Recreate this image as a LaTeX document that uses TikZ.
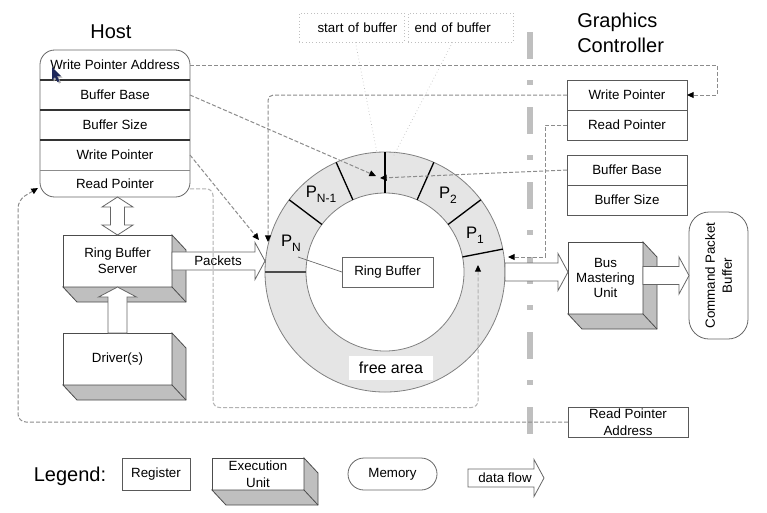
\documentclass[tikz,border=0pt]{standalone}
\usepackage{fontspec}
\setmainfont{Liberation Sans}
\usetikzlibrary{arrows.meta,calc,positioning}
\definecolor{cursorblue}{RGB}{30,40,90}
\tikzset{
	every node/.style={font=\fontsize{10}{12}\selectfont},
	title/.style={inner sep=0pt, font=\fontsize{15}{18.75}\selectfont},
	hostrow/.style={minimum width=112.5pt, minimum height=22.5pt, inner sep=0pt, outer sep=0pt},
	reg/.style={draw=black!65, fill=white, line width=0.6pt, minimum width=90pt, minimum height=22.5pt, inner sep=0pt, outer sep=0pt},
	unit/.style={draw=black!70, fill=white, line width=0.6pt, align=center, inner sep=0pt, outer sep=0pt},
	unitside/.style={draw=black!70, fill=black!25, line width=0.6pt},
	flow/.style={draw=black!60, fill=white, line width=0.6pt},
	memory/.style={draw=black!60, fill=white, line width=0.6pt, inner sep=0pt, outer sep=0pt},
	plabel/.style={inner sep=0pt, font=\fontsize{12.5}{14}\selectfont},
	bufnote/.style={draw=black!25, dotted, line width=0.5pt, text width=68.75pt, inner xsep=5pt, inner ysep=0pt, minimum height=21.75pt},
	ptr/.style={draw=black!45, line width=0.75pt, dash pattern=on 3pt off 1.5pt, -{Triangle[length=5pt,width=4.5pt,color=black]}},
	ptrlight/.style={ptr, draw=black!30},
}
\newcommand\psub[1]{\raisebox{-3.5pt}{\fontsize{9}{10}\selectfont #1}}
\begin{document}
\begin{tikzpicture}[x=0.75pt, y=-0.75pt]
	\newcommand\unitfaces[1]{
		\filldraw[unitside] (#1.north east) -- ++(14,15) -- ($(#1.south east)+(14,15)$) -- ($(#1.south west)+(14,15)$) -- (#1.south west) -- (#1.south east) -- cycle;
		\draw[unitside] (#1.south east) -- ++(14,15);
	}
	\newcommand\flowright[2]{
		\draw[flow] ($(#1)+(0,-9)$) -- ($(#2)+(-10,-9)$) -- ($(#2)+(-10,-18.5)$) -- (#2) -- ($(#2)+(-10,18.5)$) -- ($(#2)+(-10,9)$) -- ($(#1)+(0,9)$) -- cycle;
	}
	\useasboundingbox (0,0) rectangle (767,512);
	\fill[white] (0,0) rectangle (767,512);
	\draw[black!25, line width=4.5pt, dash pattern=on 20.25pt off 15.75pt on 3.75pt off 16.5pt] (530,32) -- (530,436);

	\node[title] (hosttitle) at (111,32) {Host};
	\node[title, anchor=west, align=left] (gctitle) at (577,33) {Graphics\\Controller};

	\node[draw=black!60, fill=white, line width=0.6pt, rounded corners=11pt, minimum width=112.5pt, minimum height=110.25pt, inner sep=0pt, outer sep=0pt] (host) at (115,123.5) {};
	\node[hostrow] (hwpa) at (115,65) {Write Pointer Address};
	\node[hostrow, below=0pt of hwpa] (hbb) {Buffer Base};
	\node[hostrow, below=0pt of hbb] (hbs) {Buffer Size};
	\node[hostrow, below=0pt of hbs] (hwp) {Write Pointer};
	\node[hostrow, below=0pt of hwp, minimum height=20.25pt] (hrp) {Read Pointer};
	\foreach \r in {hbb,hbs,hwp} {
		\draw[black!80, line width=0.8pt] (\r.north west) -- (\r.north east);
	}
	\draw[black!45, line width=0.5pt] (hrp.north west) -- (hrp.north east);
	\fill[black!30] (53.5,68.5) -- (53.5,81.5) -- (56.5,78.5) -- (59,83.5) -- (61,82.5) -- (58.5,77.5) -- (62.5,77.5) -- cycle;
	\fill[cursorblue] (52,67) -- (52,80) -- (55,77) -- (57.5,82) -- (59.5,81) -- (57,76) -- (61,76) -- cycle;

	\node[reg] (gwp) at (627,95) {Write Pointer};
	\node[reg, below=0pt of gwp] (grp) {Read Pointer};
	\node[reg] (gbb) at (627,170) {Buffer Base};
	\node[reg, below=0pt of gbb] (gbs) {Buffer Size};
	\node[reg, align=center, font=\fontsize{10}{12.75}\selectfont] (grpa) at (628,422) {Read Pointer\\Address};

	\node[circle, draw=black!50, fill=black!10, line width=0.6pt, minimum size=180pt, inner sep=0pt, outer sep=0pt] (ring) at (385,272) {};
	\node[circle, draw=black!50, fill=white, line width=0.6pt, minimum size=118.5pt, inner sep=0pt, outer sep=0pt] (hole) at (ring.center) {};
	\foreach \a in {-11,-37,-66,-114,-143} {
		\draw[black, line width=1pt] ($(ring.center)+(\a:79)$) -- ($(ring.center)+(\a:120)$);
	}
	\draw[black, line width=1.5pt] ($(ring.center)+(-90:79)$) -- ($(ring.center)+(-90:120)$);
	\draw[black!70, line width=1pt] ($(ring.center)+(180:79)$) -- ($(ring.center)+(180:120)$);
	\node[plabel] (pn1) at (321,194) {P\psub{N-1}};
	\node[plabel] (p2) at (448,195) {P\psub{2}};
	\node[plabel] (p1) at (475,235) {P\psub{1}};
	\node[plabel] (pn) at (291,243) {P\psub{N}};
	\node[reg, draw=black!60, minimum width=68.25pt] (rbl) at (387.5,272) {Ring Buffer};
	\coordinate (pnlead) at (298,257);
	\draw[black!60, line width=0.5pt] (pnlead) -- (rbl.west);
	\node[fill=white, minimum width=63pt, minimum height=18pt, inner sep=0pt, font=\fontsize{12}{14}\selectfont] (free) at (391,368) {free area};

	\node[unit, minimum width=81.75pt, minimum height=39pt] (rbs) at (117.5,261) {Ring Buffer\\Server};
	\node[unit, minimum width=81.75pt, minimum height=39pt] (drv) at (117.5,359) {Driver(s)};
	\node[unit, minimum width=56.25pt, minimum height=54pt, font=\fontsize{10}{11.6}\selectfont] (bmu) at (605.5,278) {Bus\\Mastering\\Unit};
	\node[memory, rounded corners=15pt, rotate=90, minimum width=95.25pt, minimum height=44.25pt, align=center, font=\fontsize{10}{12.75}\selectfont] (cpb) at (718.5,275.5) {Command Packet\\Buffer};
	\unitfaces{rbs}
	\unitfaces{drv}
	\unitfaces{bmu}

	\coordinate (hs) at (host.south -| rbs.north);
	\draw[flow] (hs) -- ++(15.5,10) -- ++(-8.5,0) -- ($(rbs.north)+(7,-10)$) -- ++(8.5,0) -- (rbs.north) -- ++(-15.5,-10) -- ++(8.5,0) -- ($(hs)+(-7,10)$) -- ++(-8.5,0) -- cycle;
	\draw[flow] ($(drv.north)+(-9.5,0)$) -- ($(rbs.south)+(-9.5,10)$) -- ($(rbs.south)+(-19,10)$) -- (rbs.south) -- ($(rbs.south)+(19,10)$) -- ($(rbs.south)+(9.5,10)$) -- ($(drv.north)+(9.5,0)$) -- cycle;
	\coordinate (pktip) at (rbs.east -| ring.west);
	\flowright{rbs.east}{pktip}
	\node (pk) at (218,261) {Packets};
	\coordinate (bmtip) at (bmu.west |- ring.east);
	\flowright{ring.east}{bmtip}
	\coordinate (cptail) at (bmu.east |- cpb.north);
	\flowright{cptail}{cpb.north}

	\node[bufnote, align=right] (sob) at (351.5,27.5) {start of buffer};
	\node[bufnote, align=left] (eob) at (460.5,27.5) {end of buffer};
	\coordinate (sobpt) at (377,153);
	\coordinate (eobpt) at (393,157);
	\draw[black!25, dotted, line width=0.5pt] ([xshift=3pt]sob.south) -- (sobpt);
	\draw[black!25, dotted, line width=0.5pt] ([xshift=-6pt]eob.south) -- (eobpt);

	\coordinate (bsl) at (376,176);
	\coordinate (bsr) at (380,178);
	\coordinate (pnl) at (259,240);
	\coordinate (pnr) at (268,242);
	\coordinate (p1pt) at (508,257);
	\coordinate (frpt) at (478,265);
	\coordinate (hostsw) at (38,188);
	\draw[ptr] (hwpa.east) -| ($(gwp.east)+(30,0)$) -- (gwp.east);
	\draw[ptr] (hbb.east) -- (bsl);
	\draw[ptr] (gbb.west) -- (bsr);
	\draw[ptr] (hwp.east) -- (pnl);
	\draw[ptr, rounded corners=4pt] (gwp.west) -| (pnr);
	\draw[ptr] (grp.west) -- ++(-22,0) |- (p1pt);
	\draw[ptrlight, rounded corners=5pt] ([yshift=-4pt]hrp.east) -| ($(hrp.east)+(23,224)$) -| (frpt);
	\draw[ptr, rounded corners=6pt] (grpa.west) -| ($(hostsw)+(-20,12)$) -- (hostsw);

	\node[title] (lgtitle) at (70,476) {Legend:};
	\node[reg, minimum width=51pt, minimum height=24pt] (lgreg) at (156,474) {Register};
	\node[unit, minimum width=69pt, minimum height=24pt, font=\fontsize{10}{13}\selectfont] (lgexec) at (258,474) {Execution\\Unit};
	\unitfaces{lgexec}
	\node[memory, rounded corners=12pt, minimum width=66.75pt, minimum height=24pt] (lgmem) at (392.5,474) {Memory};
	\coordinate (lgflowa) at (468,478);
	\coordinate (lgflowb) at (544,478);
	\flowright{lgflowa}{lgflowb}
	\node (lgflow) at (505,478) {data flow};
\end{tikzpicture}
\end{document}
